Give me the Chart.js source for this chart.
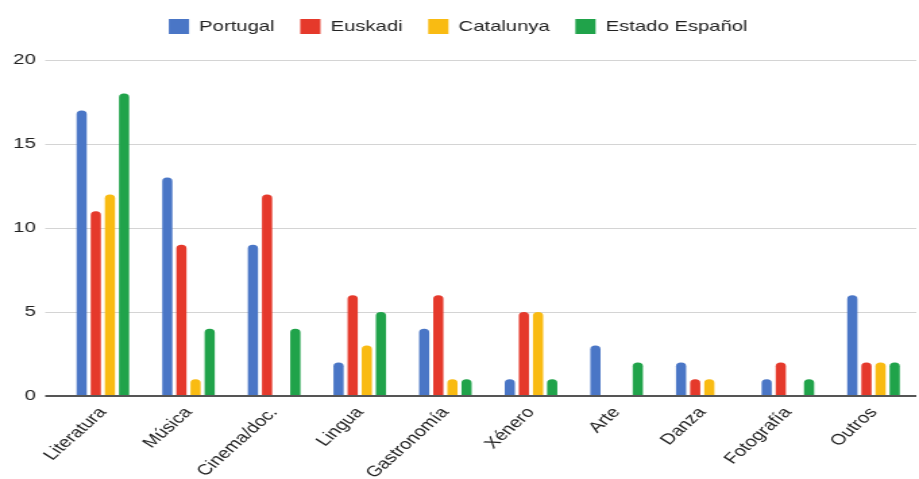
<!DOCTYPE html>
<html>
<head>
<meta charset="utf-8">
<script src="https://cdn.jsdelivr.net/npm/chart.js@4/dist/chart.umd.min.js"></script>
<style>
  html, body { margin: 0; padding: 0; background: #fff; overflow: hidden; }
  /* the reference is stretched sideways, so draw narrower and widen it */
  #wrap { width: 681px; height: 479px; transform: scaleX(1.3495); transform-origin: 0 0; }
</style>
</head>
<body>
<div id="wrap"><canvas id="myChart"></canvas></div>
<script>
const categories = ['Literatura', 'Música', 'Cinema/doc.', 'Lingua', 'Gastronomía', 'Xénero', 'Arte', 'Danza', 'Fotografía', 'Outros'];
const portugal = [17, 13, 9, 2, 4, 1, 3, 2, 1, 6];
const euskadi = [11, 9, 12, 6, 6, 5, 0, 1, 2, 2];
const catalunya = [12, 1, 0, 3, 1, 5, 0, 1, 0, 2];
const estado = [18, 4, 4, 5, 1, 1, 2, 0, 1, 2];
const yTicks = [0, 5, 10, 15, 20];

const font = "'Liberation Sans', Arial, sans-serif";

// extra room under the legend
const legendGap = {
    id: 'legendGap',
    beforeInit(chart) {
        const fit = chart.legend.fit;
        chart.legend.fit = function () {
            fit.bind(chart.legend)();
            this.height += 16;
        };
    }
};

const ctx = document.getElementById('myChart').getContext('2d');
const myChart = new Chart(ctx, {
    type: 'bar',
    data: {
        labels: categories,
        datasets: [
            { label: 'Portugal', data: portugal, backgroundColor: '#4a76c6' },
            { label: 'Euskadi', data: euskadi, backgroundColor: '#e5392b' },
            { label: 'Catalunya', data: catalunya, backgroundColor: '#f9bb12' },
            { label: 'Estado Español', data: estado, backgroundColor: '#20a34a' }
        ]
    },
    plugins: [legendGap],
    options: {
        responsive: true,
        maintainAspectRatio: false,
        animation: false,
        datasets: {
            bar: {
                categoryPercentage: 0.66,
                barPercentage: 0.72,
                borderRadius: 4,
                borderSkipped: 'start'
            }
        },
        layout: { padding: { left: 0, right: 2, top: 0, bottom: 0 } },
        plugins: {
            legend: {
                position: 'top',
                labels: {
                    boxWidth: 15,
                    boxHeight: 15,
                    padding: 19,
                    color: '#222',
                    font: { family: font, size: 15 }
                }
            },
            tooltip: { enabled: false }
        },
        scales: {
            x: {
                grid: { display: false },
                border: { display: false },
                ticks: {
                    color: '#222',
                    font: { family: font, size: 15 },
                    padding: 0,
                    minRotation: 50,
                    maxRotation: 50,
                    autoSkip: false
                },
                afterFit: s => { s.height = 83; }
            },
            y: {
                min: 0,
                max: 20,
                afterBuildTicks: s => { s.ticks = yTicks.map(v => ({ value: v })); },
                border: { display: false },
                grid: {
                    color: c => c.tick && c.tick.value === 0 ? '#555' : '#d4d4d4',
                    lineWidth: c => c.tick && c.tick.value === 0 ? 2 : 1,
                    tickLength: 11
                },
                ticks: {
                    color: '#222',
                    padding: 7,
                    font: { family: font, size: 15 }
                },
                afterFit: s => { s.width = 44.5; }
            }
        }
    }
});
</script>
</body>
</html>
